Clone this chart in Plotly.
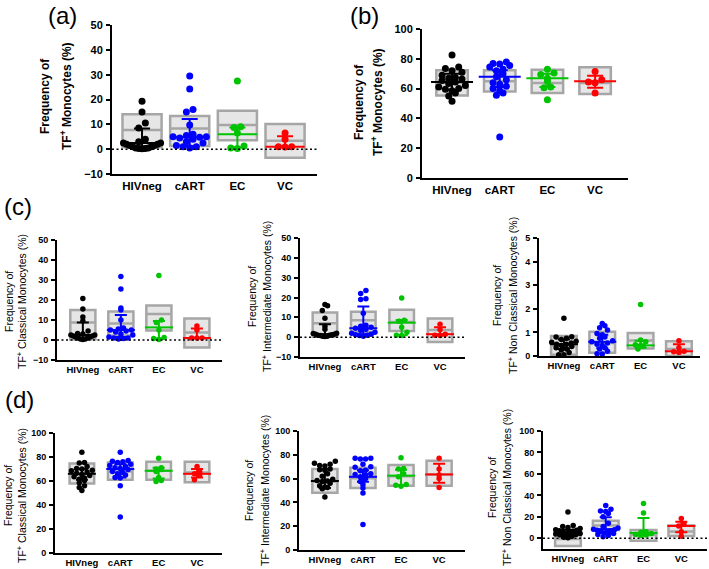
import plotly.graph_objects as go

W, H = 709, 569
GROUPS = ["HIVneg", "cART", "EC", "VC"]
COLORS = ["#000000", "#0000ff", "#00c400", "#ff0000"]
FONT = "Liberation Sans, Arial, sans-serif"

# ---------------- data ----------------
# panel (a): TF+ monocytes, %
a_points = [
    [19.3, 15.0, 10.5, 8.5, 4.0, 3.0, 2.5, 2.5, 2.0, 2.0, 1.5, 1.5, 1.0, 1.0, 0.5, 0.5, 0.3, 0.3, 0.2],
    [29.5, 24.2, 16.0, 15.0, 9.7, 6.0, 5.5, 5.0, 5.0, 4.8, 4.5, 4.0, 3.0, 2.5, 1.5, 1.0, 1.0, 0.5],
    [27.5, 9.0, 8.7, 6.5, 1.3, 0.5, 0.3],
    [6.5, 4.0, 1.0, 1.0, 0.9],
]
a_box_lo = [0.8, 1.3, 3.6, -3.5]
a_box_mid = [7.7, 8.3, 9.7, 3.4]
a_box_hi = [14.1, 13.4, 15.5, 10.1]
a_median = [2.5, 4.8, 6.0, 1.0]
a_q1 = [0.8, 1.2, 0.8, 1.0]
a_q3 = [8.3, 12.1, 8.7, 5.2]

# panel (b)
b_points = [
    [82.5, 74.5, 73.5, 72, 71, 69, 67.5, 67, 66.5, 65.5, 64.5, 63.5, 62, 61, 60, 59.5, 58.5, 57, 55, 51.5],
    [77.8, 76.8, 76.5, 75.5, 74.5, 73, 72, 70, 68, 66, 64, 63, 61.5, 60, 58.5, 57, 55.5, 27.5],
    [73, 70.5, 69.5, 67, 65, 61, 60.5, 52.5],
    [71.5, 66, 64.5, 64, 57],
]
b_box_lo = [55.3, 58, 57, 56.4]
b_box_mid = [63.8, 65, 63.8, 63.8]
b_box_hi = [72.3, 72.3, 72.7, 74.3]
b_median = [64.5, 68, 67, 64.9]
b_q1 = [59, 61, 61, 60.6]
b_q3 = [70, 72.3, 70, 68.7]

# panel (c) classical
c1_points = [
    [20.8, 15.5, 11.5, 9.5, 4.5, 3.3, 3.0, 2.5, 2.5, 2.0, 2.0, 1.5, 1.5, 1.0, 1.0, 0.5, 0.5, 0.3],
    [31.7, 25.5, 16.0, 15.0, 10.0, 6.0, 5.5, 5.0, 5.0, 4.5, 4.0, 3.0, 2.5, 1.5, 1.0, 1.0, 0.8, 0.5],
    [32.2, 10.0, 8.7, 5.0, 1.2, 0.8, 0.2],
    [7.0, 5.0, 1.0, 1.0, 1.0],
]
c1_box_lo = [0.3, 2.2, 4.7, -3.7]
c1_box_mid = [8.7, 8.3, 13.0, 3.8]
c1_box_hi = [15.0, 14.2, 17.2, 10.8]
c1_median = [2.5, 5.0, 6.3, 1.0]
c1_q1 = [0.8, 1.5, 0.7, 1.0]
c1_q3 = [8.8, 12.5, 9.5, 5.7]

# panel (c) intermediate
c2_points = [
    [16.5, 15.8, 13.5, 9.5, 5.5, 4.0, 2.0, 1.8, 1.5, 1.5, 1.2, 1.0, 1.0, 0.8, 0.5, 0.5, 0.3],
    [23.5, 22.0, 19.4, 19.0, 12.0, 6.0, 5.5, 5.0, 4.5, 4.0, 3.5, 2.5, 2.0, 1.5, 1.2, 1.0, 0.8, 0.5],
    [19.8, 8.5, 8.0, 5.0, 2.5, 1.0, 0.8],
    [6.5, 3.7, 1.5, 1.0, 0.8],
]
c2_box_lo = [0.2, 2.6, 3.1, -2.4]
c2_box_mid = [7.0, 8.5, 7.7, 3.6]
c2_box_hi = [12.4, 12.8, 13.8, 9.4]
c2_median = [1.5, 4.5, 7.3, 1.5]
c2_q1 = [0.8, 1.5, 1.0, 0.9]
c2_q3 = [6.5, 15.5, 8.7, 5.0]

# panel (c) non classical
c3_points = [
    [1.6, 0.82, 0.8, 0.75, 0.7, 0.62, 0.58, 0.55, 0.5, 0.5, 0.45, 0.4, 0.35, 0.3, 0.25, 0.15, 0.05, 0.05],
    [1.38, 1.28, 1.2, 1.1, 0.95, 0.9, 0.8, 0.75, 0.65, 0.6, 0.55, 0.5, 0.45, 0.35, 0.3, 0.2, 0.1, 0.08],
    [2.18, 0.68, 0.6, 0.48, 0.45, 0.42, 0.3],
    [0.65, 0.35, 0.2, 0.18, 0.15],
]
c3_box_lo = [0.05, 0.14, 0.32, 0.0]
c3_box_mid = [0.45, 0.55, 0.66, 0.3]
c3_box_hi = [0.85, 1.03, 0.97, 0.62]
c3_median = [0.5, 0.6, 0.45, 0.2]
c3_q1 = [0.3, 0.33, 0.35, 0.16]
c3_q3 = [0.7, 0.9, 0.65, 0.5]

# panel (d) classical
d1_points = [
    [84, 75.5, 75, 72, 70.5, 70, 69, 68.5, 67.5, 66.5, 65.5, 64.5, 63.5, 62.5, 61.5, 60.5, 58.5, 56, 54.5, 52],
    [84, 77, 76.5, 76, 75.5, 74, 73, 72, 71, 70.5, 69.5, 68, 67, 66, 65, 63, 62.5, 56, 30],
    [79, 71, 70, 69.5, 68, 63, 60.5, 59.5],
    [72, 68, 66, 65, 61],
]
d1_box_lo = [58, 61, 61, 59]
d1_box_mid = [66, 68, 68.5, 67]
d1_box_hi = [74.5, 75.5, 76, 76]
d1_median = [66, 70, 68.5, 66]
d1_q1 = [61, 63, 62, 63]
d1_q3 = [70, 74, 71, 70]

# panel (d) intermediate
d2_points = [
    [74.5, 73, 72, 71, 70.5, 68, 67.5, 67, 64, 62, 59.5, 58.5, 58, 57.5, 56, 54, 53, 52.5, 51.5, 44.5],
    [77, 77, 76.5, 76.5, 72, 70, 69.5, 67, 66.5, 64, 63.5, 63, 61.5, 60, 57.5, 55, 52, 48, 21.5],
    [77.5, 68.5, 68, 64, 61.5, 55, 54.5, 53.5],
    [77, 68, 63, 60, 52.5],
]
d2_box_lo = [48.2, 52, 54, 54]
d2_box_mid = [57.4, 60.2, 62, 63.5]
d2_box_hi = [68, 69.2, 71.4, 75]
d2_median = [58, 61.5, 62.5, 63.5]
d2_q1 = [52, 57.4, 54.5, 56.5]
d2_q3 = [68, 67, 67.5, 72.5]

# panel (d) non classical
d3_points = [
    [24.5, 12, 11, 10, 9, 8, 7.5, 7, 6.5, 6, 5.5, 5, 4.5, 4, 3.5, 3, 2, 1, 0.5],
    [30.5, 27, 25.5, 25, 23, 20, 14, 11, 9.5, 8.5, 8, 7.5, 7, 6.5, 6, 5, 4.5, 3.5, 2.5, 1.5],
    [32.5, 23.5, 6, 5.5, 4.5, 3.5, 3, 2.5],
    [18.5, 13.5, 11.5, 6, 2],
]
d3_box_lo = [-7.1, 7.7, -2.2, 2.2]
d3_box_mid = [-0.6, 12, 3.1, 6.2]
d3_box_hi = [4.6, 16.4, 7.7, 12]
d3_median = [5.5, 8.5, 5, 11.5]
d3_q1 = [3, 5, 2.8, 5.5]
d3_q3 = [8, 19.5, 19, 15.5]

# ---------------- layout of panels (pixels) ----------------
PANELS = [
    dict(pts=a_points, lo=a_box_lo, mid=a_box_mid, hi=a_box_hi, med=a_median, q1=a_q1, q3=a_q3,
         px=(112, 317), py=(25, 174), xr=(-0.63, 3.67), yr=(-10, 50), ticks=list(range(-10, 51, 10)),
         zero=True, fs=11, xfs=11.5, bw=0.82, medw=28, cap=8, ms=7,
         t1=(45, 96), t2=(66, 96), tfs=12, tbold=True, title="TF<sup>+</sup> Monocytes (%)"),
    dict(pts=b_points, lo=b_box_lo, mid=b_box_mid, hi=b_box_hi, med=b_median, q1=b_q1, q3=b_q3,
         px=(422, 628), py=(29, 178), xr=(-0.63, 3.69), yr=(0, 100), ticks=list(range(0, 101, 20)),
         zero=False, fs=11, xfs=11.5, bw=0.66, medw=30, cap=8, ms=7,
         t1=(359, 102), t2=(377, 102), tfs=12, tbold=True, title="TF<sup>+</sup> Monocytes (%)"),
    dict(pts=c1_points, lo=c1_box_lo, mid=c1_box_mid, hi=c1_box_hi, med=c1_median, q1=c1_q1, q3=c1_q3,
         px=(57, 222), py=(240, 360), xr=(-0.68, 3.66), yr=(-10, 50), ticks=list(range(-10, 51, 10)),
         zero=True, fs=9, xfs=9.5, bw=0.66, medw=20, cap=6, ms=5.5,
         t1=(9, 302), t2=(22, 302), tfs=10.5, tbold=False, title="TF<sup>+</sup> Classical Monocytes (%)"),
    dict(pts=c2_points, lo=c2_box_lo, mid=c2_box_mid, hi=c2_box_hi, med=c2_median, q1=c2_q1, q3=c2_q3,
         px=(300, 465), py=(238, 357), xr=(-0.65, 3.65), yr=(-10, 50), ticks=list(range(-10, 51, 10)),
         zero=True, fs=9, xfs=9.5, bw=0.64, medw=20, cap=6, ms=5.5,
         t1=(252, 297), t2=(266, 297), tfs=10.5, tbold=False, title="TF<sup>+</sup> Intermediate Monocytes (%)"),
    dict(pts=c3_points, lo=c3_box_lo, mid=c3_box_mid, hi=c3_box_hi, med=c3_median, q1=c3_q1, q3=c3_q3,
         px=(539, 700), py=(238, 356), xr=(-0.65, 3.55), yr=(0, 5), ticks=list(range(0, 6)),
         zero=False, fs=9, xfs=9.5, bw=0.67, medw=20, cap=6, ms=5.5,
         t1=(497, 296), t2=(512, 296), tfs=10.5, tbold=False, title="TF<sup>+</sup> Non Classical Monocytes (%)"),
    dict(pts=d1_points, lo=d1_box_lo, mid=d1_box_mid, hi=d1_box_hi, med=d1_median, q1=d1_q1, q3=d1_q3,
         px=(55, 222), py=(433, 553), xr=(-0.7, 3.65), yr=(0, 100), ticks=list(range(0, 101, 20)),
         zero=False, fs=9, xfs=9.5, bw=0.64, medw=20, cap=6, ms=5.5,
         t1=(8, 496), t2=(21, 496), tfs=10.5, tbold=False, title="TF<sup>+</sup> Classical Monocytes (%)"),
    dict(pts=d2_points, lo=d2_box_lo, mid=d2_box_mid, hi=d2_box_hi, med=d2_median, q1=d2_q1, q3=d2_q3,
         px=(299, 465), py=(431, 550), xr=(-0.68, 3.68), yr=(0, 100), ticks=list(range(0, 101, 20)),
         zero=False, fs=9, xfs=9.5, bw=0.66, medw=20, cap=6, ms=5.5,
         t1=(249, 491), t2=(264, 491), tfs=10.5, tbold=False, title="TF<sup>+</sup> Intermediate Monocytes (%)"),
    dict(pts=d3_points, lo=d3_box_lo, mid=d3_box_mid, hi=d3_box_hi, med=d3_median, q1=d3_q1, q3=d3_q3,
         px=(543, 707), py=(431, 549), xr=(-0.66, 3.68), yr=(-10, 100), ticks=list(range(0, 101, 20)),
         zero=True, fs=9, xfs=9.5, bw=0.68, medw=20, cap=6, ms=5.5,
         t1=(492, 488), t2=(506, 488), tfs=10.5, tbold=False, title="TF<sup>+</sup> Non Classical Monocytes (%)"),
]

LETTERS = [("(a)", 62, 15), ("(b)", 364, 15), ("(c)", 18, 206), ("(d)", 19, 399)]


def swarm(vals, ppx, ppy, ms, maxw):
    """GraphPad-like scatter: values binned into rows one dot tall, each row spread
    symmetrically side by side (compressed to fit maxw pixels), filled centre-out."""
    rows = {}
    for i, v in enumerate(vals):
        rows.setdefault(int((v * ppy) // (ms * 0.95)), []).append(i)
    offs = [0.0] * len(vals)
    for r, idx in rows.items():
        idx.sort(key=lambda i: vals[i])
        n = len(idx)
        sp = ms * 0.95
        if n > 1 and (n - 1) * sp > maxw:
            sp = maxw / (n - 1)
        slots = sorted(range(n), key=lambda j: (abs(j - (n - 1) / 2), j))
        for j, i in zip(slots, idx):
            offs[i] = ((j - (n - 1) / 2) * sp) / ppx
    return offs


fig = go.Figure()
layout = dict(width=W, height=H, margin=dict(l=0, r=0, t=0, b=0, autoexpand=False),
              paper_bgcolor="white", plot_bgcolor="white", showlegend=False,
              font=dict(family=FONT, color="black"))
annotations = []
shapes = []

for k, p in enumerate(PANELS, start=1):
    xa = "x" if k == 1 else f"x{k}"
    ya = "y" if k == 1 else f"y{k}"
    xkey = "xaxis" if k == 1 else f"xaxis{k}"
    ykey = "yaxis" if k == 1 else f"yaxis{k}"
    x0, x1 = p["px"]
    yt, yb = p["py"]
    layout[xkey] = dict(domain=[x0 / W, x1 / W], anchor=ya, range=list(p["xr"]),
                        tickvals=[0, 1, 2, 3], ticktext=GROUPS, ticks="", showgrid=False,
                        zeroline=False, showline=True, linecolor="black", linewidth=2,
                        tickfont=dict(size=p["xfs"], weight="bold"), automargin=False,
                        ticklabelstandoff=0, fixedrange=True)
    layout[ykey] = dict(domain=[1 - yb / H, 1 - yt / H], anchor=xa, range=list(p["yr"]),
                        tickvals=p["ticks"], ticks="outside", ticklen=4, tickwidth=1.5,
                        tickcolor="black", showgrid=False, zeroline=False, showline=True,
                        linecolor="black", linewidth=2, tickfont=dict(size=p["fs"], weight="bold"),
                        ticklabelstandoff=1, automargin=False, fixedrange=True)

    ppx = (x1 - x0) / (p["xr"][1] - p["xr"][0])
    ppy = (yb - yt) / (p["yr"][1] - p["yr"][0])

    # grey floating boxes
    fig.add_trace(go.Box(x=[0, 1, 2, 3], q1=p["lo"], median=p["mid"], q3=p["hi"],
                         lowerfence=p["lo"], upperfence=p["hi"], width=p["bw"], whiskerwidth=0,
                         fillcolor="#e6e6e6", line=dict(color="#a6a6a6", width=2.5),
                         boxpoints=False, xaxis=xa, yaxis=ya, hoverinfo="skip"))

    if p["zero"]:
        shapes.append(dict(type="line", xref=f"{xa} domain", yref=ya, x0=0, x1=1, y0=0, y1=0,
                           line=dict(color="black", width=1.5, dash="2px,2.5px"), layer="above"))

    for g in range(4):
        vals = p["pts"][g]
        offs = swarm(vals, ppx, ppy, p["ms"], p["bw"] * ppx * 0.95)
        fig.add_trace(go.Scatter(x=[g + o for o in offs], y=vals, mode="markers",
                                 marker=dict(size=p["ms"], color=COLORS[g]),
                                 xaxis=xa, yaxis=ya, hoverinfo="skip"))
        med = p["med"][g]
        fig.add_trace(go.Scatter(x=[g], y=[med], mode="markers",
                                 marker=dict(symbol="line-ew", size=p["medw"],
                                             line=dict(width=2, color=COLORS[g])),
                                 error_y=dict(type="data", symmetric=False,
                                              array=[p["q3"][g] - med], arrayminus=[med - p["q1"][g]],
                                              color=COLORS[g], thickness=2, width=p["cap"]),
                                 xaxis=xa, yaxis=ya, hoverinfo="skip"))

    tf = dict(family=FONT, size=p["tfs"], color="black", weight="bold" if p["tbold"] else "normal")
    annotations.append(dict(text="Frequency of", x=p["t1"][0] / W, y=1 - p["t1"][1] / H,
                            xref="paper", yref="paper", showarrow=False, textangle=-90,
                            xanchor="center", yanchor="middle", font=tf))
    annotations.append(dict(text=p["title"], x=p["t2"][0] / W, y=1 - p["t2"][1] / H,
                            xref="paper", yref="paper", showarrow=False, textangle=-90,
                            xanchor="center", yanchor="middle", font=tf))

for txt, lx, ly in LETTERS:
    annotations.append(dict(text=txt, x=lx / W, y=1 - ly / H, xref="paper", yref="paper",
                            showarrow=False, xanchor="center", yanchor="middle",
                            font=dict(family=FONT, size=24, color="black")))

layout["annotations"] = annotations
layout["shapes"] = shapes
fig.update_layout(**layout)
fig.write_html("out.html", config={"displayModeBar": False},
               post_script="document.body.style.margin='0px';document.body.style.overflow='hidden';")
